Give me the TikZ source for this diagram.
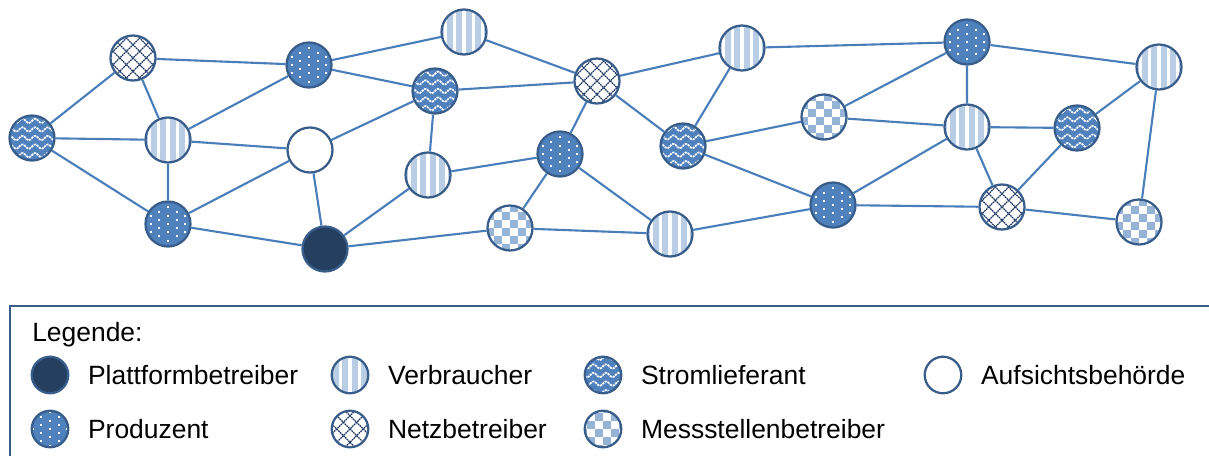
\documentclass[tikz,border=0pt]{standalone}
\usepackage{fontspec}
\setmainfont{Liberation Sans}
\usepackage{tikz}
\usetikzlibrary{positioning}
\usepackage{xcolor}
\definecolor{linkblue}{RGB}{74,126,187}
\definecolor{rimblue}{RGB}{56,93,138}
\definecolor{midblue}{RGB}{79,129,189}
\definecolor{paleblue}{RGB}{185,205,229}
\definecolor{checkblue}{RGB}{149,179,215}
\definecolor{navy}{RGB}{36,63,96}
\definecolor{hatchnavy}{RGB}{31,56,100}
\tikzstyle{actor} = [circle, draw=rimblue, line width=1.6pt, minimum size=32pt, inner sep=0pt]
\tikzstyle{key} = [minimum size=26pt]
\tikzstyle{link} = [line width=1.5pt, color=linkblue]
\tikzstyle{keytext} = [inner sep=0pt, font=\fontsize{18.8}{22}\selectfont]
% roles
\tikzstyle{plattform} = [actor, fill=navy]
\tikzstyle{aufsicht} = [actor, fill=white]
\tikzstyle{produzent} = [actor, fill=midblue, path picture={
  \begin{scope}[shift={(path picture bounding box.center)}]
  \foreach \i in {-4,...,4} \foreach \j in {-4,...,4}
    \fill[white] ({\i*6.2pt-0.7pt},{\j*5.9pt+mod(\i+4,2)*2.95pt-0.7pt}) rectangle ++(1.4pt,1.4pt);
  \end{scope}}]
\tikzstyle{verbraucher} = [actor, fill=paleblue, path picture={
  \begin{scope}[shift={(path picture bounding box.center)}]
  \foreach \i in {-3,...,3}
    \fill[white] ({\i*6.6pt-1.1pt},-20pt) rectangle ++(2.2pt,40pt);
  \end{scope}}]
\tikzstyle{stromlieferant} = [actor, fill=midblue, path picture={
  \begin{scope}[shift={(path picture bounding box.center)}]
  \foreach \j in {-3,...,3}
    \draw[white, line width=1.2pt, dash pattern=on 1.6pt off 0.6pt]
      plot[variable=\t, domain=-20:20, samples=61] ({\t*1pt},{\j*6.1pt+1.5pt*sin(\t*40)});
  \end{scope}}]
\tikzstyle{netzbetreiber} = [actor, fill=white, path picture={
  \begin{scope}[shift={(path picture bounding box.center)}]
  \foreach \i in {-4,...,4} {
    \draw[hatchnavy, line width=0.9pt, dash pattern=on 1.2pt off 0.5pt] ({\i*9.4pt-20pt},-20pt) -- ++(40pt,40pt);
    \draw[hatchnavy, line width=0.9pt, dash pattern=on 1.2pt off 0.5pt] ({\i*9.4pt+20pt},-20pt) -- ++(-40pt,40pt);
  }
  \end{scope}}]
\tikzstyle{messstellen} = [actor, fill=white, path picture={
  \begin{scope}[shift={(path picture bounding box.center)}]
  \foreach \i in {-4,-2,...,2} \foreach \j in {-4,-2,...,2} {
    \fill[checkblue] (\i*5.8pt,\j*5.8pt) rectangle ++(5.8pt,5.8pt);
    \fill[checkblue] ({(\i+1)*5.8pt},{(\j+1)*5.8pt}) rectangle ++(5.8pt,5.8pt);
  }
  \end{scope}}]

\begin{document}
\begin{tikzpicture}[x=0.025cm, y=-0.025cm]
\useasboundingbox (0,0) rectangle (1209,455);

% Network
\node[netzbetreiber] (n1) at (133,58) {};
\node[produzent] (p1) at (309,65) {};
\node[stromlieferant] (s1) at (32,138) {};
\node[verbraucher] (v1) at (168,140) {};
\node[aufsicht] (ab) at (310,150) {};
\node[produzent] (p2) at (168,224) {};
\node[plattform] (pb) at (325,249) {};
\node[verbraucher] (v2) at (464,32) {};
\node[stromlieferant] (s2) at (435,91) {};
\node[netzbetreiber] (n2) at (597,81) {};
\node[verbraucher] (v3) at (742,48) {};
\node[produzent] (p3) at (560,154) {};
\node[verbraucher] (v4) at (428,175) {};
\node[stromlieferant] (s3) at (683,146) {};
\node[messstellen] (m1) at (510,228) {};
\node[verbraucher] (v5) at (670,234) {};
\node[produzent] (p4) at (967,42) {};
\node[verbraucher] (v6) at (1159,67) {};
\node[messstellen] (m2) at (824,117) {};
\node[verbraucher] (v7) at (967,127) {};
\node[stromlieferant] (s4) at (1077,128) {};
\node[produzent] (p5) at (833,205) {};
\node[netzbetreiber] (n3) at (1002,207) {};
\node[messstellen] (m3) at (1139,222) {};

% Links
\draw[link] (s1) -- (n1) -- (p1) -- (v2) -- (n2) -- (v3) -- (p4) -- (v6) -- (m3) -- (n3) -- (p5) -- (v5) -- (m1) -- (pb) -- (p2) -- (s1);
\draw[link] (s1) -- (v1) -- (p1) -- (s2) -- (n2) -- (s3) -- (m2) -- (p4) -- (v7) -- (s4) -- (v6);
\draw[link] (n1) -- (v1) -- (ab) -- (pb) -- (v4) -- (s2) -- (ab) -- (p2) -- (v1);
\draw[link] (v4) -- (p3) -- (n2);
\draw[link] (m1) -- (p3) -- (v5);
\draw[link] (v3) -- (s3) -- (p5) -- (v7) -- (n3) -- (s4);
\draw[link] (m2) -- (v7);

% Legend
\draw[rimblue, line width=1.4pt] (1220,306) -- (10,306) -- (10,465);
\node[keytext, anchor=base west] (legende) at (32,341) {Legende:};
\node[plattform, key] (k-pb) at (50,375) {};
\node[produzent, key] (k-p) at (50,429) {};
\node[verbraucher, key] (k-v) at (350,375) {};
\node[netzbetreiber, key] (k-n) at (350,429) {};
\node[stromlieferant, key] (k-s) at (603,375) {};
\node[messstellen, key] (k-m) at (603,429) {};
\node[aufsicht, key] (k-ab) at (943,375) {};
\node[keytext, right=0.46cm of k-pb] {Plattformbetreiber};
\node[keytext, right=0.46cm of k-p] {Produzent};
\node[keytext, right=0.46cm of k-v] {Verbraucher};
\node[keytext, right=0.46cm of k-n] {Netzbetreiber};
\node[keytext, right=0.46cm of k-s] {Stromlieferant};
\node[keytext, right=0.46cm of k-m] {Messstellenbetreiber};
\node[keytext, right=0.46cm of k-ab] {Aufsichtsbehörde};
\end{tikzpicture}
\end{document}
